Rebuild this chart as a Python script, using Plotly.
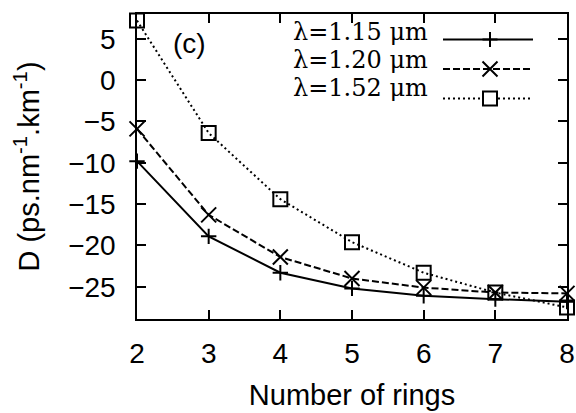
import plotly.graph_objects as go

# Dispersion D versus number of air-hole rings, for three wavelengths
rings = [2, 3, 4, 5, 6, 7, 8]
d_115 = [-9.8, -18.9, -23.3, -25.2, -26.1, -26.5, -26.8]
d_120 = [-5.9, -16.3, -21.4, -24.0, -25.1, -25.7, -25.8]
d_152 = [7.2, -6.4, -14.4, -19.6, -23.3, -25.7, -27.5]

labels = ["λ=1.15 μm", "λ=1.20 μm", "λ=1.52 μm"]
y_ticks = [-25, -20, -15, -10, -5, 0, 5]

W, H = 576, 413
L, R, T, B = 137, 9, 14, 94
PW, PH = W - L - R, H - T - B

SANS = "Liberation Sans, Arial, sans-serif"
SERIF = "DejaVu Serif, Liberation Serif, serif"

series = [
    (d_115, "solid", "cross-thin", 11),
    (d_120, "7px,3px", "x-thin", 15),
    (d_152, "2px,3px", "square-open", 14),
]

fig = go.Figure()
for vals, dash, sym, size in series:
    fig.add_trace(go.Scatter(
        x=rings, y=vals, mode="lines+markers",
        line=dict(color="black", width=2, dash=dash),
        marker=dict(symbol=sym, size=size, color="black",
                    line=dict(color="black", width=2)),
        cliponaxis=False, showlegend=False,
    ))


def px_x(p):
    return (p - L) / PW


def px_y(p):
    return (H - B - p) / PH


# key: text on the left, line sample with its marker on the right
shapes = []
annotations = []
text_mid = [32, 60, 88.5]
sample_y = [39.5, 69, 98.5]
for i, (lab, (vals, dash, sym, size)) in enumerate(zip(labels, series)):
    annotations.append(dict(
        x=px_x(292), y=px_y(text_mid[i]), xref="paper", yref="paper",
        text=lab, showarrow=False, xanchor="left", yanchor="middle",
        borderpad=0, font=dict(family=SERIF, size=24, color="black"),
    ))
    sy = sample_y[i]
    shapes.append(dict(
        type="line", xref="paper", yref="paper",
        x0=px_x(443), x1=px_x(533), y0=px_y(sy), y1=px_y(sy),
        line=dict(color="black", width=2, dash=dash),
    ))
    cx = 490
    if sym == "cross-thin":
        h = 7.5
        path = (f"M{px_x(cx - h)},{px_y(sy)} L{px_x(cx + h)},{px_y(sy)} "
                f"M{px_x(cx)},{px_y(sy - h)} L{px_x(cx)},{px_y(sy + h)}")
        shapes.append(dict(type="path", xref="paper", yref="paper", path=path,
                           line=dict(color="black", width=2)))
    elif sym == "x-thin":
        h = 7.5
        path = (f"M{px_x(cx - h)},{px_y(sy - h)} L{px_x(cx + h)},{px_y(sy + h)} "
                f"M{px_x(cx - h)},{px_y(sy + h)} L{px_x(cx + h)},{px_y(sy - h)}")
        shapes.append(dict(type="path", xref="paper", yref="paper", path=path,
                           line=dict(color="black", width=2)))
    else:
        h = 7
        shapes.append(dict(type="rect", xref="paper", yref="paper",
                           x0=px_x(cx - h), x1=px_x(cx + h),
                           y0=px_y(sy - h), y1=px_y(sy + h),
                           fillcolor="white", line=dict(color="black", width=2)))

annotations.append(dict(
    x=px_x(189.5), y=px_y(43), xref="paper", yref="paper", text="(c)",
    showarrow=False, xanchor="center", yanchor="middle",
    font=dict(family=SANS, size=28, color="black"),
))

axis_common = dict(
    showline=True, linecolor="black", linewidth=1.5, mirror="ticks",
    ticks="inside", ticklen=9, tickwidth=1.5, tickcolor="black",
    showgrid=False, zeroline=False, automargin=False,
    tickfont=dict(family=SANS, size=28, color="black"),
)

fig.update_layout(
    width=W, height=H,
    margin=dict(l=L, r=R, t=T, b=B),
    paper_bgcolor="white", plot_bgcolor="white",
    xaxis=dict(range=[2, 8], tickmode="array", tickvals=rings,
               ticklabelstandoff=9,
               title=dict(text="Number of rings", standoff=16,
                          font=dict(family=SANS, size=29, color="black")),
               **axis_common),
    yaxis=dict(range=[-28.9, 8.0], tickmode="array", tickvals=y_ticks,
               ticklabelstandoff=14,
               title=dict(text="D (ps.nm<sup>-1</sup>.km<sup>-1</sup>)", standoff=20,
                          font=dict(family=SANS, size=29, color="black")),
               **axis_common),
    shapes=shapes,
    annotations=annotations,
)

fig.write_html("out.html")
